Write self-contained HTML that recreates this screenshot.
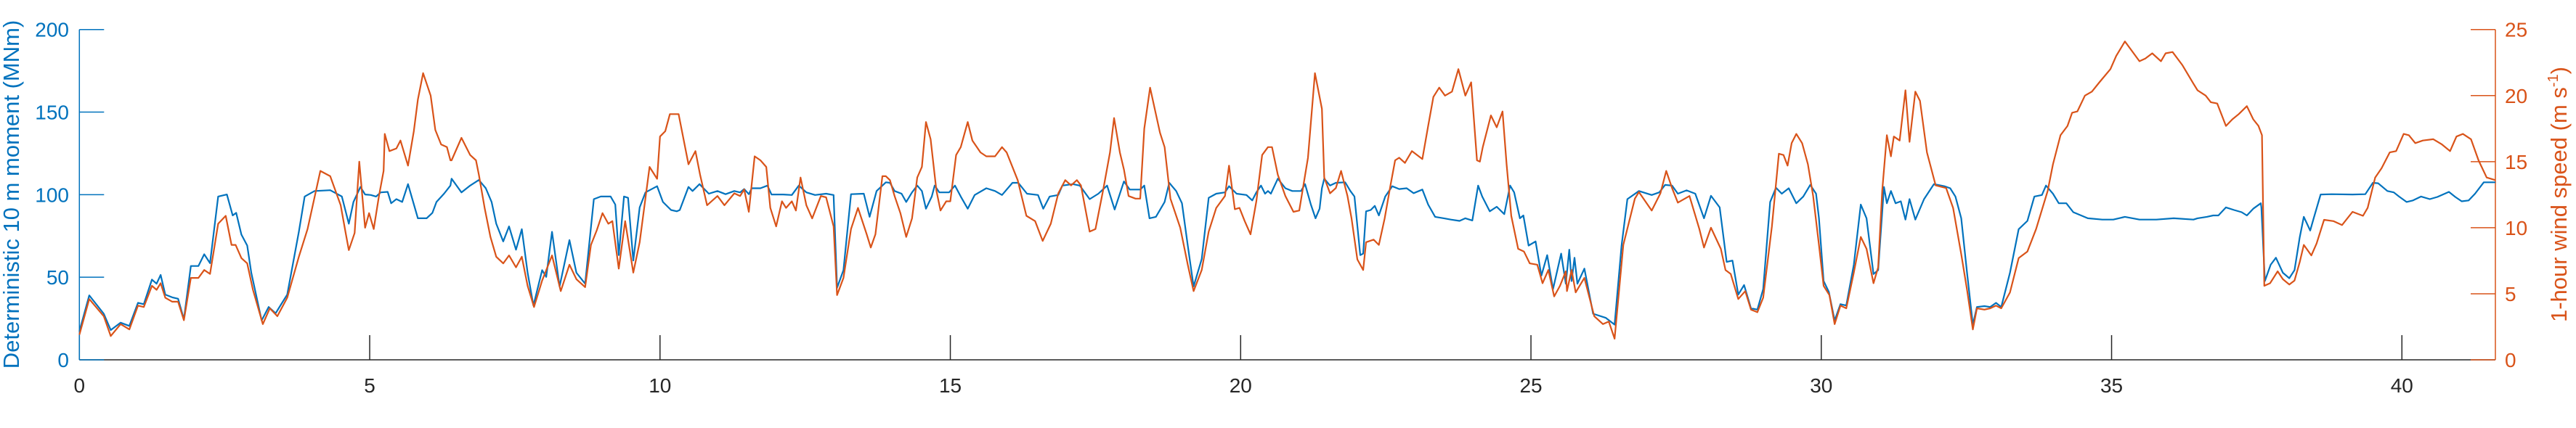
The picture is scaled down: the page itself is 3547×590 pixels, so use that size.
<!DOCTYPE html>
<html>
<head>
<meta charset="utf-8">
<style>
html,body{margin:0;padding:0;background:#fff;}
svg{display:block;}
text{font-family:"Liberation Sans",Arial,sans-serif;}
</style>
</head>
<body>
<svg id="chart" width="3547" height="590" viewBox="0 0 3547 590" xmlns="http://www.w3.org/2000/svg">
  <g id="axes"></g>
  <g id="series"></g>
  <text x="0" y="0" transform="translate(26,268) rotate(-90)" text-anchor="middle" font-size="31" fill="#0072BD">Deterministic 10 m moment (MNm)</text>
  <text x="0" y="0" transform="translate(3534,268) rotate(-90)" text-anchor="middle" font-size="31" fill="#D95319">1-hour wind speed (m s<tspan font-size="20" dy="-12">-1</tspan><tspan dy="12">)</tspan></text>
</svg>
<script>
// ---- data ----
const xTicks = [0,5,10,15,20,25,30,35,40];
const leftTicks = [0,50,100,150,200];
const rightTicks = [0,5,10,15,20,25];

const timeM = [0,.17,.42,.54,.71,.86,1.01,1.11,1.25,1.33,1.40,1.48,1.60,1.70,1.80,1.92,2.05,2.15,2.25,2.39,2.54,2.64,2.70,2.79,2.89,2.96,3.14,3.26,3.38,3.58,3.78,3.88,4.05,4.32,4.52,4.64,4.72,4.84,4.92,5.02,5.11,5.19,5.31,5.37,5.46,5.56,5.66,5.83,5.98,6.08,6.15,6.28,6.39,
6.41,6.58,6.73,6.88,7.00,7.10,7.18,7.30,7.40,7.52,7.62,7.72,7.82,7.97,8.04,8.14,8.27,8.44,8.56,8.71,8.86,8.98,9.15,9.23,9.29,9.38,9.45,9.54,9.65,9.75,9.95,10.05,10.19,10.29,10.34,10.49,10.56,10.68,10.84,10.99,11.13,11.28,11.38,11.45,11.53,11.58,11.73,11.85,11.92,12.12,12.27,12.39,12.52,12.67,12.86,12.99,13.05,13.16,13.29,13.51,13.61,13.73,13.89,
13.96,14.04,14.16,14.24,14.34,14.43,14.51,14.58,14.68,14.73,14.81,14.98,15.08,15.18,15.30,15.42,15.62,15.77,15.89,16.07,16.17,16.32,16.51,16.60,16.71,16.86,16.93,17.11,17.23,17.40,17.55,17.70,17.83,17.99,18.09,18.27,18.34,18.43,18.54,18.69,18.77,18.89,18.99,19.09,19.19,19.33,19.45,19.58,19.73,19.80,19.93,20.10,20.20,20.27,20.35,20.42,20.47,20.52,20.64,20.77,20.89,21.04,21.11,21.21,21.29,21.36,21.40,
21.44,21.54,21.64,21.80,21.89,21.96,22.06,22.11,22.16,22.24,22.31,22.38,22.49,22.61,22.73,22.86,22.98,23.13,23.23,23.35,23.50,23.62,23.77,23.87,23.99,24.09,24.16,24.29,24.41,24.54,24.64,24.71,24.81,24.87,24.96,25.08,25.18,25.28,25.38,25.52,25.60,25.66,25.70,25.75,25.80,25.92,26.07,26.29,26.44,26.56,26.66,26.86,27.08,27.21,27.31,27.43,27.53,27.68,27.83,27.98,28.10,28.25,28.37,28.47,28.57,28.67,28.79,28.90,
29.00,29.12,29.22,29.32,29.44,29.57,29.69,29.81,29.91,29.96,30.04,30.13,30.23,30.33,30.43,30.56,30.68,30.78,30.90,30.98,31.08,31.13,31.20,31.28,31.37,31.45,31.52,31.62,31.77,31.94,32.12,32.22,32.31,32.41,32.51,32.61,32.68,32.81,32.91,33.01,33.10,33.25,33.40,33.55,33.67,33.80,33.87,33.99,34.09,34.22,34.34,34.59,34.84,35.03,35.23,35.48,35.77,36.07,36.41,
36.48,36.64,36.75,36.84,36.97,37.11,37.24,37.33,37.44,37.57,37.58,37.64,37.74,37.83,37.95,38.06,38.15,38.24,38.31,38.42,38.48,38.60,38.79,39.15,39.37,39.50,39.59,39.75,39.86,39.95,40.08,40.19,40.33,40.48,40.61,40.81,40.92,41.03,41.15,41.26,41.41,41.61];

const moment = [17.2,39.0,27.9,18.0,22.5,20.5,34.5,33.7,48.6,46.1,51.4,39.5,37.8,37.0,24.6,56.8,56.8,63.9,58.5,98.9,100.1,87.4,89.0,75.8,69.2,52.7,23.8,32.0,28.2,39.5,77.5,98.9,102.2,102.7,98.9,82.4,95.6,104.7,100.1,99.8,98.9,101.4,101.7,94.8,97.3,95.6,106.4,85.7,85.7,89.0,95.6,100.6,105.5,
109.7,101.4,105.5,108.9,103.9,95.6,82.4,71.7,80.8,66.7,79.1,52.7,32.9,54.3,50.2,77.5,44.4,72.5,52.7,46.1,97.3,98.9,98.9,94.0,63.4,98.9,98.1,60.1,92.3,101.4,105.1,95.6,90.7,89.9,90.7,104.7,102.2,106.4,100.6,102.2,100.3,102.2,101.4,103.4,100.3,103.9,103.9,105.5,100.1,100.1,99.8,105.5,101.4,99.8,100.6,99.8,43.6,54.3,100.3,100.6,86.6,102.2,107.5,
107.2,102.2,100.6,95.6,101.4,105.5,102.2,91.5,98.9,105.5,101.4,101.4,105.5,98.9,91.5,99.8,103.9,102.2,99.8,107.2,107.2,100.6,99.8,91.5,98.9,99.8,105.5,106.4,105.5,97.3,100.6,105.5,91.0,108.0,103.1,103.1,105.5,85.7,86.6,95.6,107.2,102.2,94.8,69.2,44.4,61.0,98.1,100.6,101.4,105.1,100.6,99.8,96.5,101.4,105.5,100.6,102.2,100.6,109.7,103.9,102.2,102.2,106.4,94.0,85.7,91.5,103.9,
109.7,105.5,107.2,107.5,102.2,98.9,63.4,64.3,89.9,90.7,93.2,87.4,98.9,105.1,103.4,103.9,100.9,103.1,94.0,86.6,85.7,84.9,84.1,85.7,84.4,105.5,98.9,89.9,92.7,88.2,105.5,101.4,85.7,87.4,69.2,71.7,51.0,63.4,42.8,64.3,46.1,66.7,47.7,61.8,46.1,55.2,27.9,25.4,21.3,69.2,97.3,102.2,99.8,101.4,105.9,105.5,100.6,102.6,100.6,85.7,99.3,92.3,59.3,60.1,39.5,45.3,31.2,30.4,
42.8,95.6,104.2,100.6,103.9,94.8,98.9,105.9,100.6,85.7,47.7,41.1,23.8,33.7,32.9,57.6,94.0,85.7,51.9,54.3,104.7,94.8,102.2,94.8,96.0,84.9,97.3,84.9,97.3,106.4,105.1,103.9,98.9,85.7,52.7,21.3,32.0,32.5,32.0,34.5,32.0,52.7,79.1,84.1,98.9,99.8,105.5,100.6,94.8,94.8,89.4,85.7,84.9,84.9,86.6,84.9,84.9,85.7,84.9,
85.7,86.6,87.4,87.4,92.3,90.7,89.4,87.4,91.5,94.8,92.3,47.7,57.6,61.8,52.7,49.4,54.3,74.2,86.6,78.3,85.7,100.1,100.3,100.1,100.3,107.2,106.9,102.2,101.4,98.9,95.6,96.5,98.9,97.3,98.6,101.7,98.6,96.0,96.5,100.6,107.5,107.5];

const timeW = [0,.17,.42,.54,.71,.86,1.01,1.11,1.25,1.33,1.40,1.48,1.60,1.70,1.80,1.92,2.05,2.15,2.25,2.39,2.52,2.62,2.69,2.79,2.89,2.99,3.16,3.28,3.41,3.58,3.78,3.93,4.15,4.32,4.50,4.59,4.64,4.74,4.82,4.92,4.99,5.07,5.16,5.24,5.26,5.34,5.46,5.53,5.66,5.76,5.83,5.92,6.05,6.13,6.23,6.33,6.39,
6.41,6.58,6.73,6.83,6.88,6.98,7.08,7.18,7.30,7.40,7.52,7.62,7.72,7.83,7.97,8.14,8.29,8.44,8.56,8.71,8.81,8.91,9.01,9.11,9.18,9.29,9.40,9.54,9.65,9.82,9.95,10.00,10.09,10.17,10.32,10.49,10.61,10.69,10.81,10.99,11.11,11.28,11.38,11.45,11.53,11.63,11.73,11.83,11.90,12.00,12.10,12.17,12.27,12.34,12.42,12.52,12.62,12.77,12.86,12.99,13.05,13.16,13.29,13.41,13.56,13.63,13.71,13.83,13.89,
13.96,14.04,14.14,14.24,14.34,14.43,14.51,14.58,14.66,14.76,14.83,14.93,15.00,15.10,15.18,15.30,15.38,15.52,15.62,15.77,15.89,15.97,16.16,16.31,16.46,16.59,16.73,16.86,16.98,17.08,17.18,17.25,17.40,17.50,17.63,17.75,17.82,17.92,17.99,18.07,18.19,18.27,18.34,18.44,18.54,18.61,18.69,18.79,18.96,19.09,19.19,19.33,19.45,19.58,19.73,19.80,19.90,19.98,20.07,20.17,20.27,20.37,20.47,20.54,20.64,20.77,20.91,21.01,21.16,21.28,21.40,
21.44,21.54,21.64,21.73,21.84,21.91,22.01,22.11,22.16,22.29,22.38,22.48,22.58,22.66,22.73,22.83,22.95,23.13,23.23,23.32,23.42,23.52,23.64,23.75,23.87,23.97,24.07,24.12,24.17,24.31,24.41,24.51,24.58,24.66,24.78,24.88,24.98,25.11,25.20,25.30,25.40,25.50,25.60,25.62,25.70,25.77,25.92,26.09,26.24,26.34,26.44,26.59,26.79,26.86,27.08,27.23,27.33,27.43,27.53,27.73,27.90,27.98,28.10,28.27,28.35,28.44,28.57,28.69,28.79,28.90,
29.00,29.15,29.27,29.35,29.42,29.49,29.57,29.67,29.77,29.86,29.96,30.04,30.14,30.23,30.33,30.43,30.56,30.68,30.78,30.90,30.98,31.05,31.13,31.20,31.25,31.35,31.45,31.52,31.62,31.70,31.82,31.97,32.15,32.27,32.41,32.51,32.61,32.68,32.81,32.91,33.01,33.10,33.25,33.40,33.55,33.70,33.90,33.99,34.12,34.24,34.32,34.41,34.54,34.66,34.79,34.98,35.08,35.23,35.33,35.48,35.58,35.70,35.85,35.93,36.05,36.22,36.41,
36.48,36.62,36.71,36.82,36.97,37.08,37.19,37.33,37.44,37.53,37.59,37.63,37.73,37.86,37.95,38.06,38.15,38.24,38.31,38.44,38.53,38.66,38.82,38.97,39.15,39.33,39.41,39.54,39.65,39.79,39.90,40.03,40.12,40.23,40.36,40.54,40.69,40.83,40.94,41.05,41.19,41.32,41.46,41.61];

const wind = [1.9,4.6,3.3,1.8,2.7,2.3,4.1,4.0,5.6,5.3,5.8,4.7,4.4,4.4,3.0,6.2,6.2,6.8,6.5,10.3,10.9,8.7,8.7,7.7,7.3,5.3,2.7,3.9,3.3,4.7,7.8,9.9,14.3,13.9,11.7,9.5,8.3,9.6,15.0,10.0,11.1,9.9,12.4,14.3,17.1,15.8,16.0,16.6,14.7,17.3,19.7,21.7,20.0,17.4,16.3,16.1,15.1,
15.1,16.8,15.5,15.1,14.0,11.5,9.3,7.8,7.3,7.9,7.0,7.8,5.6,4.0,6.0,7.9,5.2,7.2,6.1,5.5,8.7,9.8,11.1,10.3,10.5,6.9,10.5,6.6,8.9,14.6,13.7,16.9,17.3,18.6,18.6,14.8,15.8,14.0,11.7,12.4,11.7,12.6,12.4,12.9,11.2,15.4,15.1,14.6,11.5,10.1,12.0,11.5,12.0,11.3,13.8,11.7,10.7,12.4,12.3,10.1,4.9,6.2,9.9,11.5,9.5,8.5,9.5,13.9,13.9,
13.6,12.4,11.1,9.3,10.7,13.8,14.6,18.0,16.7,12.8,11.3,12.0,12.0,15.5,16.1,18.0,16.6,15.7,15.4,15.4,16.1,15.7,13.6,10.9,10.5,9.0,10.3,12.6,13.6,13.2,13.6,13.2,9.7,9.9,12.8,15.7,18.3,15.7,14.4,12.4,12.2,12.2,17.5,20.6,18.6,17.2,16.1,12.2,10.0,7.2,5.2,6.8,9.7,11.5,12.4,14.7,11.4,11.5,10.5,9.5,12.0,15.5,16.1,16.1,14.0,12.4,11.2,11.3,15.3,21.7,19.0,
13.8,12.6,13.0,14.3,12.4,10.7,7.6,6.8,8.9,9.1,8.7,10.7,13.2,15.1,15.3,14.9,15.8,15.2,17.7,19.9,20.6,20.0,20.3,22.0,20.0,21.0,15.1,15.0,16.1,18.5,17.6,18.8,14.8,10.9,8.4,8.2,7.3,7.2,5.8,6.8,4.8,5.6,6.7,5.2,6.8,5.1,6.2,3.3,2.7,2.9,1.6,8.7,12.2,12.7,11.3,12.6,14.3,13.0,11.9,12.4,9.9,8.5,10.0,8.4,6.8,6.5,4.6,5.2,3.8,3.6,
4.7,10.1,15.6,15.5,14.7,16.4,17.1,16.4,14.8,12.4,8.7,5.6,4.9,2.7,4.1,3.9,6.6,9.3,8.4,5.8,7.0,12.8,17.0,15.4,16.9,16.6,20.4,16.5,20.3,19.6,15.7,13.2,13.0,11.5,8.0,5.3,2.3,3.9,3.8,3.9,4.1,3.9,5.1,7.7,8.2,9.9,12.8,14.8,17.0,17.7,18.7,18.8,20.0,20.3,21.0,22.0,23.0,24.1,23.5,22.6,22.8,23.2,22.6,23.2,23.3,22.3,20.9,
20.4,20.0,19.5,19.4,17.7,18.2,18.6,19.2,18.2,17.7,17.0,5.6,5.8,6.7,6.1,5.7,6.0,7.4,8.7,7.9,8.8,10.6,10.5,10.2,11.2,10.9,11.5,13.8,14.5,15.7,15.8,17.1,17.0,16.4,16.6,16.7,16.3,15.8,16.9,17.1,16.7,15.1,13.8,13.6];

// ---- layout ----
const X0 = 109.3, X1 = 3436, Y0 = 496, Y1 = 40.7;
const XMAX = 41.61, LMAX = 200, RMAX = 25;
const BLUE = '#0072BD', ORANGE = '#D95319', DARK = '#262626';
const NS = 'http://www.w3.org/2000/svg';
function xS(t){ return X0 + (t / XMAX) * (X1 - X0); }
function yL(v){ return Y0 - (v / LMAX) * (Y0 - Y1); }
function yR(v){ return Y0 - (v / RMAX) * (Y0 - Y1); }
function mk(tag, attrs, parent){
  const e = document.createElementNS(NS, tag);
  for (const k in attrs) e.setAttribute(k, attrs[k]);
  parent.appendChild(e);
  return e;
}
const axes = document.getElementById('axes');
const series = document.getElementById('series');

// x axis line
const xl = mk('line', {x1:X0, y1:Y0, x2:X1, y2:Y0, stroke:DARK, 'stroke-width':1.5}, axes);


xTicks.forEach(function(t){
  const x = xS(t);
  const tk = mk('line', {x1:x, y1:Y0, x2:x, y2:Y0-34, stroke:DARK, 'stroke-width':1.5}, axes);
  
  
  const lb = mk('text', {x:x, y:Y0+45, 'text-anchor':'middle', 'font-size':28, fill:DARK}, axes);
  lb.textContent = String(t);
  
  
});

// left axis
const la = mk('line', {x1:X0, y1:Y0, x2:X0, y2:Y1, stroke:BLUE, 'stroke-width':1.5}, axes);


leftTicks.forEach(function(v){
  const y = yL(v);
  const tk = mk('line', {x1:X0, y1:y, x2:X0+34, y2:y, stroke:BLUE, 'stroke-width':1.5}, axes);
  
  
  const lb = mk('text', {x:95, y:y+10, 'text-anchor':'end', 'font-size':28, fill:BLUE}, axes);
  lb.textContent = String(v);
  
  
});

// right axis
const ra = mk('line', {x1:X1, y1:Y0, x2:X1, y2:Y1, stroke:ORANGE, 'stroke-width':1.5}, axes);


rightTicks.forEach(function(v){
  const y = yR(v);
  const tk = mk('line', {x1:X1, y1:y, x2:X1-34, y2:y, stroke:ORANGE, 'stroke-width':1.5}, axes);
  
  
  const lb = mk('text', {x:3449, y:y+10, 'text-anchor':'start', 'font-size':28, fill:ORANGE}, axes);
  lb.textContent = String(v);
  
  
});

// series
function pathFrom(ts, vs, yf){
  let d = '';
  for (let i = 0; i < ts.length && i < vs.length; i++){
    d += (i ? 'L' : 'M') + xS(ts[i]).toFixed(1) + ',' + yf(vs[i]).toFixed(1);
  }
  return d;
}
const pm = mk('path', {d:pathFrom(timeM, moment, yL), fill:'none', stroke:BLUE, 'stroke-width':2.2, 'stroke-linejoin':'round'}, series);


const pw = mk('path', {d:pathFrom(timeW, wind, yR), fill:'none', stroke:ORANGE, 'stroke-width':2.2, 'stroke-linejoin':'round'}, series);


</script>
</body>
</html>
